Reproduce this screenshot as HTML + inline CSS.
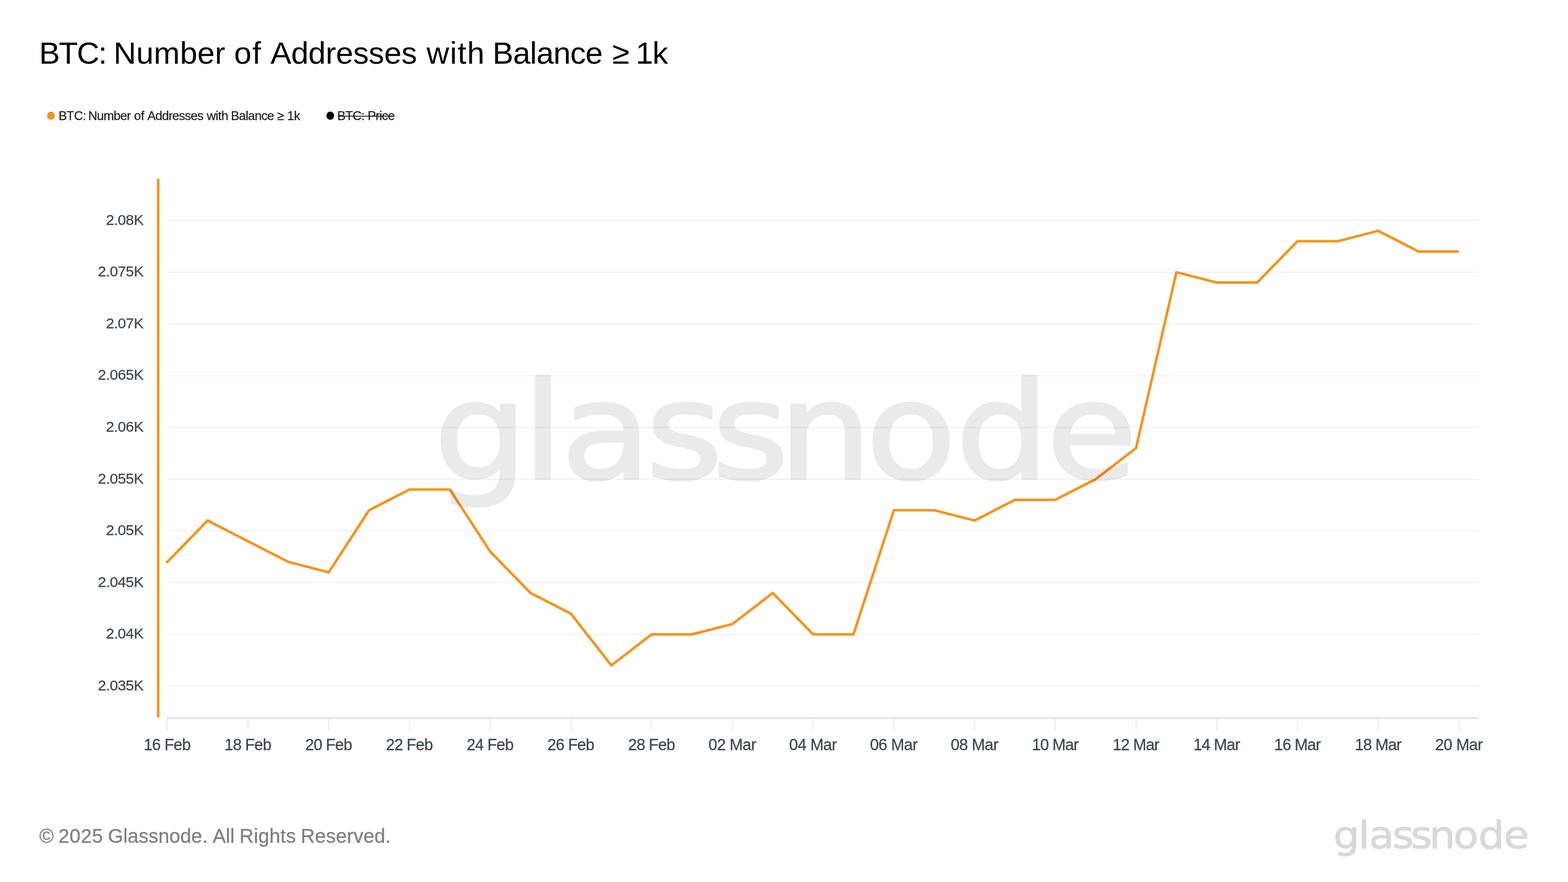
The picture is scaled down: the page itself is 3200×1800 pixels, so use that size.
<!DOCTYPE html>
<html lang="en">
<head>
<meta charset="utf-8">
<title>BTC: Number of Addresses with Balance ≥ 1k</title>
<style>
html,body{margin:0;padding:0;background:#fff;}
body{width:3200px;height:1800px;overflow:hidden;position:relative;font-family:"Liberation Sans",sans-serif;}
svg{position:absolute;left:0;top:0;display:block;}
text{font-family:"Liberation Sans",sans-serif;}
</style>
</head>
<body>
<svg width="3200" height="1800" viewBox="0 0 3200 1800">
<rect width="3200" height="1800" fill="#ffffff"/>

<text x="79.73 120.05 156.79 200.63 216.13 231.77 278.07 313.77 367.15 402.85 438.56 460.04 477.84 514.91 534.24 551.88 594.15 629.35 664.55 685.52 720.72 752.34 783.95 819.16 850.77 870.50 918.17 933.94 953.26 990.33 1005.27 1046.91 1081.47 1094.73 1129.30 1163.87 1194.85 1229.42 1249.53 1284.54 1297.42 1331.41" y="130.2" font-size="63.8" fill="#000000">BTC: Number of Addresses with Balance ≥ 1k</text>
<ellipse cx="103.95" cy="236.1" rx="7.9" ry="8.3" fill="#f7931a"/>
<text x="119.38 135.86 150.89 168.79 175.22 179.98 197.75 211.24 231.87 245.35 258.84 266.56 273.42 287.49 294.39 300.71 317.01 330.46 343.90 351.59 365.04 377.03 389.03 402.48 414.47 421.94 439.96 445.07 451.63 465.36 471.18 487.60 501.15 506.09 519.64 533.19 545.30 558.85 565.46 579.62 586.06 600.06" y="245" font-size="25.8" fill="#1a1a1a" stroke="#1a1a1a" stroke-width="0.25">BTC: Number of Addresses with Balance ≥ 1k</text>
<ellipse cx="674.0" cy="236.1" rx="7.9" ry="8.3" fill="#000000"/>
<text x="688.34 704.65 719.50 737.23 743.50 750.13 766.55 774.35 779.29 791.40" y="245" font-size="25.8" fill="#1a1a1a" stroke="#1a1a1a" stroke-width="0.25">BTC: Price</text>
<line x1="689.4" x2="805.3" y1="237.1" y2="237.1" stroke="#1a1a1a" stroke-width="1.6"/>
<line x1="341.3" x2="3018.5" y1="450.00" y2="450.00" stroke="#f1f1f1" stroke-width="2.2"/>
<text x="292.60" y="458.70" font-size="30.4" fill="#3f4450" text-anchor="end" letter-spacing="-0.6" stroke="#3f4450" stroke-width="0.3">2.08K</text>
<line x1="341.3" x2="3018.5" y1="555.58" y2="555.58" stroke="#f1f1f1" stroke-width="2.2"/>
<text x="292.60" y="564.28" font-size="30.4" fill="#3f4450" text-anchor="end" letter-spacing="-0.6" stroke="#3f4450" stroke-width="0.3">2.075K</text>
<line x1="341.3" x2="3018.5" y1="661.16" y2="661.16" stroke="#f1f1f1" stroke-width="2.2"/>
<text x="292.60" y="669.86" font-size="30.4" fill="#3f4450" text-anchor="end" letter-spacing="-0.6" stroke="#3f4450" stroke-width="0.3">2.07K</text>
<line x1="341.3" x2="3018.5" y1="766.73" y2="766.73" stroke="#f1f1f1" stroke-width="2.2"/>
<text x="292.60" y="775.43" font-size="30.4" fill="#3f4450" text-anchor="end" letter-spacing="-0.6" stroke="#3f4450" stroke-width="0.3">2.065K</text>
<line x1="341.3" x2="3018.5" y1="872.31" y2="872.31" stroke="#f1f1f1" stroke-width="2.2"/>
<text x="292.60" y="881.01" font-size="30.4" fill="#3f4450" text-anchor="end" letter-spacing="-0.6" stroke="#3f4450" stroke-width="0.3">2.06K</text>
<line x1="341.3" x2="3018.5" y1="977.89" y2="977.89" stroke="#f1f1f1" stroke-width="2.2"/>
<text x="292.60" y="986.59" font-size="30.4" fill="#3f4450" text-anchor="end" letter-spacing="-0.6" stroke="#3f4450" stroke-width="0.3">2.055K</text>
<line x1="341.3" x2="3018.5" y1="1083.47" y2="1083.47" stroke="#f1f1f1" stroke-width="2.2"/>
<text x="292.60" y="1092.17" font-size="30.4" fill="#3f4450" text-anchor="end" letter-spacing="-0.6" stroke="#3f4450" stroke-width="0.3">2.05K</text>
<line x1="341.3" x2="3018.5" y1="1189.04" y2="1189.04" stroke="#f1f1f1" stroke-width="2.2"/>
<text x="292.60" y="1197.74" font-size="30.4" fill="#3f4450" text-anchor="end" letter-spacing="-0.6" stroke="#3f4450" stroke-width="0.3">2.045K</text>
<line x1="341.3" x2="3018.5" y1="1294.62" y2="1294.62" stroke="#f1f1f1" stroke-width="2.2"/>
<text x="292.60" y="1303.32" font-size="30.4" fill="#3f4450" text-anchor="end" letter-spacing="-0.6" stroke="#3f4450" stroke-width="0.3">2.04K</text>
<line x1="341.3" x2="3018.5" y1="1400.20" y2="1400.20" stroke="#f1f1f1" stroke-width="2.2"/>
<text x="292.60" y="1408.90" font-size="30.4" fill="#3f4450" text-anchor="end" letter-spacing="-0.6" stroke="#3f4450" stroke-width="0.3">2.035K</text>
<line x1="341.40" x2="341.40" y1="1465.25" y2="1490.5" stroke="#ebebeb" stroke-width="2.2"/>
<text x="340.90" y="1530.90" font-size="32.5" fill="#3f4450" text-anchor="middle" letter-spacing="-1.0" stroke="#3f4450" stroke-width="0.3">16 Feb</text>
<line x1="506.16" x2="506.16" y1="1465.25" y2="1490.5" stroke="#ebebeb" stroke-width="2.2"/>
<text x="505.66" y="1530.90" font-size="32.5" fill="#3f4450" text-anchor="middle" letter-spacing="-1.0" stroke="#3f4450" stroke-width="0.3">18 Feb</text>
<line x1="670.91" x2="670.91" y1="1465.25" y2="1490.5" stroke="#ebebeb" stroke-width="2.2"/>
<text x="670.41" y="1530.90" font-size="32.5" fill="#3f4450" text-anchor="middle" letter-spacing="-1.0" stroke="#3f4450" stroke-width="0.3">20 Feb</text>
<line x1="835.67" x2="835.67" y1="1465.25" y2="1490.5" stroke="#ebebeb" stroke-width="2.2"/>
<text x="835.17" y="1530.90" font-size="32.5" fill="#3f4450" text-anchor="middle" letter-spacing="-1.0" stroke="#3f4450" stroke-width="0.3">22 Feb</text>
<line x1="1000.42" x2="1000.42" y1="1465.25" y2="1490.5" stroke="#ebebeb" stroke-width="2.2"/>
<text x="999.92" y="1530.90" font-size="32.5" fill="#3f4450" text-anchor="middle" letter-spacing="-1.0" stroke="#3f4450" stroke-width="0.3">24 Feb</text>
<line x1="1165.18" x2="1165.18" y1="1465.25" y2="1490.5" stroke="#ebebeb" stroke-width="2.2"/>
<text x="1164.68" y="1530.90" font-size="32.5" fill="#3f4450" text-anchor="middle" letter-spacing="-1.0" stroke="#3f4450" stroke-width="0.3">26 Feb</text>
<line x1="1329.94" x2="1329.94" y1="1465.25" y2="1490.5" stroke="#ebebeb" stroke-width="2.2"/>
<text x="1329.44" y="1530.90" font-size="32.5" fill="#3f4450" text-anchor="middle" letter-spacing="-1.0" stroke="#3f4450" stroke-width="0.3">28 Feb</text>
<line x1="1494.69" x2="1494.69" y1="1465.25" y2="1490.5" stroke="#ebebeb" stroke-width="2.2"/>
<text x="1494.34" y="1530.90" font-size="32.5" fill="#3f4450" text-anchor="middle" letter-spacing="-0.7" stroke="#3f4450" stroke-width="0.3">02 Mar</text>
<line x1="1659.45" x2="1659.45" y1="1465.25" y2="1490.5" stroke="#ebebeb" stroke-width="2.2"/>
<text x="1659.10" y="1530.90" font-size="32.5" fill="#3f4450" text-anchor="middle" letter-spacing="-0.7" stroke="#3f4450" stroke-width="0.3">04 Mar</text>
<line x1="1824.21" x2="1824.21" y1="1465.25" y2="1490.5" stroke="#ebebeb" stroke-width="2.2"/>
<text x="1823.86" y="1530.90" font-size="32.5" fill="#3f4450" text-anchor="middle" letter-spacing="-0.7" stroke="#3f4450" stroke-width="0.3">06 Mar</text>
<line x1="1988.96" x2="1988.96" y1="1465.25" y2="1490.5" stroke="#ebebeb" stroke-width="2.2"/>
<text x="1988.61" y="1530.90" font-size="32.5" fill="#3f4450" text-anchor="middle" letter-spacing="-0.7" stroke="#3f4450" stroke-width="0.3">08 Mar</text>
<line x1="2153.72" x2="2153.72" y1="1465.25" y2="1490.5" stroke="#ebebeb" stroke-width="2.2"/>
<text x="2153.17" y="1530.90" font-size="32.5" fill="#3f4450" text-anchor="middle" letter-spacing="-1.1" stroke="#3f4450" stroke-width="0.3">10 Mar</text>
<line x1="2318.47" x2="2318.47" y1="1465.25" y2="1490.5" stroke="#ebebeb" stroke-width="2.2"/>
<text x="2317.92" y="1530.90" font-size="32.5" fill="#3f4450" text-anchor="middle" letter-spacing="-1.1" stroke="#3f4450" stroke-width="0.3">12 Mar</text>
<line x1="2483.23" x2="2483.23" y1="1465.25" y2="1490.5" stroke="#ebebeb" stroke-width="2.2"/>
<text x="2482.68" y="1530.90" font-size="32.5" fill="#3f4450" text-anchor="middle" letter-spacing="-1.1" stroke="#3f4450" stroke-width="0.3">14 Mar</text>
<line x1="2647.99" x2="2647.99" y1="1465.25" y2="1490.5" stroke="#ebebeb" stroke-width="2.2"/>
<text x="2647.44" y="1530.90" font-size="32.5" fill="#3f4450" text-anchor="middle" letter-spacing="-1.1" stroke="#3f4450" stroke-width="0.3">16 Mar</text>
<line x1="2812.74" x2="2812.74" y1="1465.25" y2="1490.5" stroke="#ebebeb" stroke-width="2.2"/>
<text x="2812.19" y="1530.90" font-size="32.5" fill="#3f4450" text-anchor="middle" letter-spacing="-1.1" stroke="#3f4450" stroke-width="0.3">18 Mar</text>
<line x1="2977.50" x2="2977.50" y1="1465.25" y2="1490.5" stroke="#ebebeb" stroke-width="2.2"/>
<text x="2977.15" y="1530.90" font-size="32.5" fill="#3f4450" text-anchor="middle" letter-spacing="-0.7" stroke="#3f4450" stroke-width="0.3">20 Mar</text>
<line x1="340.3" x2="3018.5" y1="1465.35" y2="1465.35" stroke="#dcdcdc" stroke-width="2.6"/>
<rect x="320.2" y="365" width="5.2" height="1099" fill="#f7931a"/>
<polyline points="338.60,1146.81 341.40,1146.81 423.78,1062.35 506.16,1104.58 588.53,1146.81 670.91,1167.93 753.29,1041.24 835.67,999.00 918.05,999.00 1000.42,1125.70 1082.80,1210.16 1165.18,1252.39 1247.56,1357.97 1329.94,1294.62 1412.32,1294.62 1494.69,1273.51 1577.07,1210.16 1659.45,1294.62 1741.83,1294.62 1824.21,1041.24 1906.58,1041.24 1988.96,1062.35 2071.34,1020.12 2153.72,1020.12 2236.10,977.89 2318.47,914.54 2400.85,555.58 2483.23,576.69 2565.61,576.69 2647.99,492.23 2730.37,492.23 2812.74,471.12 2895.12,513.35 2977.20,513.35" fill="none" stroke="#f7931a" stroke-width="5.2" stroke-linejoin="round" stroke-linecap="butt"/>
<text x="80.22 109.70 119.29 142.10 164.92 187.73 210.55 220.29 251.54 260.56 282.94 303.08 323.21 345.59 367.98 390.36 412.74 423.99 434.12 460.85 469.79 478.73 488.72 517.93 527.15 549.73 572.30 583.75 604.07 613.72 642.81 665.26 685.46 707.91 721.44 741.64 764.09 786.54" y="1720" font-size="40" fill="#808080" stroke="#808080" stroke-width="0.45">© 2025 Glassnode. All Rights Reserved.</text>
<text transform="scale(1.1,1)" x="2473.95 2519.73 2539.77 2583.09 2617.18 2651.64 2696.45 2742.64 2789.95" y="1730.9" font-size="76.4" fill="#d9d9d9" stroke="#d9d9d9" stroke-width="1.4" stroke-linejoin="round" style="font-family:'DejaVu Sans',sans-serif">glassnode</text>
<g opacity="0.08"><text transform="scale(1.1,1)" x="804.77 968.95 1040.45 1197.73 1320.45 1444.09 1606.14 1772.59 1941.23" y="976.4" font-size="275" fill="#000" stroke="#000" stroke-width="5" stroke-linejoin="round" style="font-family:'DejaVu Sans',sans-serif">glassnode</text></g>
</svg>
</body>
</html>
